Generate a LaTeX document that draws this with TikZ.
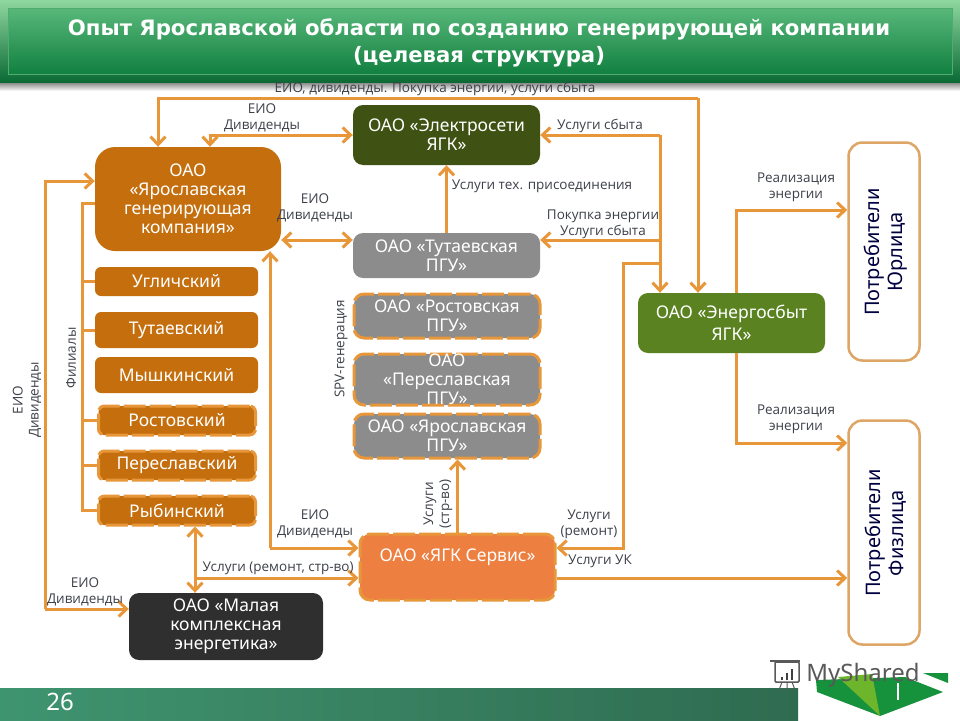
\documentclass[tikz,border=0pt]{standalone}
\usepackage{fontspec}
\setmainfont{Noto Sans}
\newfontfamily\titlefont{DejaVu Sans}
\newfontfamily\labelfont{Open Sans}
\usepackage{xcolor}
\usetikzlibrary{arrows.meta}
\definecolor{linkcol}{HTML}{E8963A}
\definecolor{brownbox}{HTML}{C46E0E}
\definecolor{olivebox}{HTML}{3F5213}
\definecolor{graybox}{HTML}{8C8C8C}
\definecolor{greenbox}{HTML}{5A8220}
\definecolor{servbox}{HTML}{ED8040}
\definecolor{darkbox}{HTML}{2F2F2F}
\definecolor{custline}{HTML}{DDA566}
\definecolor{labelcol}{HTML}{3C4048}
\definecolor{bandtop}{HTML}{8FD8A0}
\definecolor{bandlow}{HTML}{0B6A34}
\definecolor{inntop}{HTML}{58B87A}
\definecolor{innlow}{HTML}{118040}
\definecolor{foota}{HTML}{3F9470}
\definecolor{footb}{HTML}{2F6B50}
\definecolor{logoa}{HTML}{16913C}
\definecolor{logob}{HTML}{6DB52A}
\begin{document}
\begin{tikzpicture}[x=1pt,y=-1pt,
		orgbox/.style={rounded corners=10pt, inner sep=0pt, align=center, text=white, font=\fontsize{17.5}{19}\selectfont},
		dashbox/.style={orgbox, draw=linkcol, line width=3pt, dash pattern=on 22pt off 4pt},
		custbox/.style={draw=custline, line width=2.5pt, fill=white, rounded corners=14pt, inner sep=0pt},
		custtext/.style={rotate=90, align=center, text=black!75!blue, font=\fontsize{20}{23}\selectfont},
		lab/.style={align=center, text=labelcol, inner sep=0pt, font=\labelfont\fontsize{13.5}{16}\selectfont},
		link/.style={draw=linkcol, line width=3pt},
		arr/.style={link, -{Straight Barb[length=8pt,width=15pt]}},
		arrs/.style={link, {Straight Barb[length=8pt,width=15pt]}-{Straight Barb[length=8pt,width=15pt]}}
	]
	\useasboundingbox (0,0) rectangle (960,720);

	% title band and footer
	\shade[top color=black!50, bottom color=white] (0,82) rectangle (960,91);
	\shade[top color=bandtop, bottom color=bandlow] (0,0) rectangle (960,82);
	\shade[top color=inntop, bottom color=innlow, draw=bandtop!50!innlow] (8,8) rectangle (952,74);
	\node[font=\titlefont\bfseries\fontsize{21.2}{27}\selectfont, text=white, align=center, inner sep=0pt] (title) at (479,43)
		{Опыт Ярославской области по созданию генерирующей компании\\(целевая структура)};
	\shade[left color=foota, right color=footb] (0,688) rectangle (798,720);
	\node[font=\fontsize{24}{24}\selectfont, text=white, inner sep=0pt] (pagenum) at (60,702) {26};

	% boxes
	\node[orgbox, fill=brownbox, minimum width=186pt, minimum height=104pt, rounded corners=20pt] (gen) at (188,199)
		{ОАО\\«Ярославская\\генерирующая\\компания»};
	\node[orgbox, fill=olivebox, minimum width=187pt, minimum height=60pt] (seti) at (446.5,135) {ОАО «Электросети\\ЯГК»};
	\node[orgbox, fill=graybox, minimum width=187pt, minimum height=45pt] (tutpgu) at (446.5,255.5) {ОАО «Тутаевская\\ПГУ»};
	\node[dashbox, fill=graybox, minimum width=186pt, minimum height=44pt] (rospgu) at (447,316) {ОАО «Ростовская\\ПГУ»};
	\node[dashbox, fill=graybox, minimum width=186pt, minimum height=51pt] (perpgu) at (447,379.5) {ОАО\\«Переславская\\ПГУ»};
	\node[dashbox, fill=graybox, minimum width=186pt, minimum height=44pt] (yarpgu) at (447,436) {ОАО «Ярославская\\ПГУ»};

	\node[orgbox, fill=brownbox, minimum width=163pt, minimum height=29pt, rounded corners=6pt] (uglich) at (176.5,281.5) {\raisebox{-4pt}{Угличский}};
	\node[orgbox, fill=brownbox, minimum width=163pt, minimum height=36pt, rounded corners=6pt] (tutaev) at (176.5,330) {\raisebox{-2pt}{Тутаевский}};
	\node[orgbox, fill=brownbox, minimum width=163pt, minimum height=36pt, rounded corners=6pt] (myshkin) at (176.5,375) {\raisebox{-1pt}{Мышкинский}};
	\node[dashbox, fill=brownbox, minimum width=157pt, minimum height=29pt, rounded corners=6pt] (rostov) at (177,420.5) {Ростовский};
	\node[dashbox, fill=brownbox, minimum width=157pt, minimum height=29pt, rounded corners=6pt] (pereslav) at (177,465.5) {\raisebox{-1pt}{Переславский}};
	\node[dashbox, fill=brownbox, minimum width=157pt, minimum height=29pt, rounded corners=6pt] (rybinsk) at (177,510.5) {Рыбинский};

	\node[orgbox, fill=darkbox, minimum width=194pt, minimum height=67pt] (malaya) at (226,626.5) {ОАО «Малая\\комплексная\\энергетика»};
	\node[dashbox, fill=servbox, minimum width=195pt, minimum height=66pt] (serv) at (457.5,567) {};
	\node[text=white, inner sep=0pt, font=\fontsize{17.5}{19}\selectfont] (servtext) at (457.5,557) {ОАО «ЯГК Сервис»};
	\node[orgbox, fill=greenbox, minimum width=187pt, minimum height=60pt] (sbyt) at (731.5,323) {ОАО «Энергосбыт\\[3pt]ЯГК»};

	\node[custbox, minimum width=71pt, minimum height=218pt] (yur) at (884,251.5) {};
	\node[custtext] (yurtext) at (886,252) {Потребители\\Юрлица};
	\node[custbox, minimum width=71pt, minimum height=224pt] (fiz) at (884,532.5) {};
	\node[custtext] (fiztext) at (886,533) {Потребители\\Физлица};

	% junctions
	\coordinate (topa) at (158,98);
	\coordinate (topb) at (698,98);
	\coordinate (divr) at (210,135);
	\coordinate (sbyta) at (660,135);
	\coordinate (sbytb) at (660,240);
	\coordinate (remb) at (660,263);
	\coordinate (remc) at (623,263);
	\coordinate (remd) at (623,548);
	\coordinate (lefta) at (45,181);
	\coordinate (leftb) at (45,609);
	\coordinate (fila) at (82,203);
	\coordinate (filb) at (82,510);
	\coordinate (gena) at (270,548);
	\coordinate (rybm) at (195,578);
	\coordinate (reala) at (736,210);
	\coordinate (realb) at (736,443);

	% connectors
	\draw[arr] (topb) -- (topa) -- (topa |- gen.north);
	\draw[arr] (topb) -- (topb |- sbyt.north);
	\draw[arrs] (seti.west |- divr) -- (divr) -- (divr |- gen.north);
	\draw[arr] (sbyta) -- (sbyta -| seti.east);
	\draw[arr] (sbyta) -- (sbyta |- sbyt.north);
	\draw[arr] (sbytb) -- (sbytb -| tutpgu.east);
	\draw[arr] (remb) -- (remc) -- (remd) -- (remd -| serv.east);
	\draw[arrs] (gen.east |- sbytb) -- (tutpgu.west |- sbytb);
	\draw[arr] (tutpgu.north) -- (seti.south);
	\draw[arr] (leftb) -- (lefta) -- (lefta -| gen.west);
	\draw[arr] (leftb) -- (leftb -| malaya.west);
	\draw[link] (fila -| gen.west) -- (fila) -- (filb) -- (filb -| rybinsk.west);
	\draw[link] (fila |- uglich.west) -- (uglich.west);
	\draw[link] (fila |- tutaev.west) -- (tutaev.west);
	\draw[link] (fila |- rostov.west) -- (rostov.west);
	\draw[link] (fila |- pereslav.west) -- (pereslav.west);
	\draw[arr] (gena) -- (gena |- gen.south);
	\draw[arr] (gena) -- (gena -| serv.west);
	\draw[arrs] (rybm |- rybinsk.south) -- (rybm |- malaya.north);
	\draw[arr] (rybm) -- (rybm -| serv.west);
	\draw[arr] (serv.north) -- (serv.north |- yarpgu.south);
	\draw[arr] (rybm -| serv.east) -- (rybm -| fiz.west);
	\draw[arr] (reala |- sbyt.north) -- (reala) -- (reala -| yur.west);
	\draw[arr] (realb |- sbyt.south) -- (realb) -- (realb -| fiz.west);

	% labels
	\node[lab] (toplab) at (435,89) {ЕИО, дивиденды. Покупка энергии, услуги сбыта};
	\node[lab] (divlaba) at (262,118) {ЕИО\\Дивиденды};
	\node[lab] (divlabb) at (315,208) {ЕИО\\Дивиденды};
	\node[lab] (divlabc) at (315,524) {ЕИО\\Дивиденды};
	\node[lab] (divlabd) at (85,592) {ЕИО\\Дивиденды};
	\node[lab, rotate=90] (divlabe) at (27,400) {ЕИО\\Дивиденды};
	\node[lab, rotate=90] (fillab) at (71,358) {Филиалы};
	\node[lab, rotate=90] (spvlab) at (341,349) {SPV-генерация};
	\node[lab] (sbytlab) at (600,126) {Услуги сбыта};
	\node[lab] (teklab) at (542,186) {Услуги тех. присоединения};
	\node[lab] (poklab) at (603,224) {Покупка энергии\\Услуги сбыта};
	\node[lab] (realab) at (796,187) {Реализация\\энергии};
	\node[lab] (realabb) at (796,419) {Реализация\\энергии};
	\node[lab] (remlab) at (278,568) {Услуги (ремонт, стр-во)};
	\node[lab, rotate=90] (strlab) at (438,504) {Услуги\\(стр-во)};
	\node[lab] (remlabb) at (589,524) {Услуги\\(ремонт)};
	\node[lab] (uklab) at (600,561) {Услуги УК};

	% logo
	\fill[logoa] (816,680) -- (817,692) -- (880,716) -- (943,692) -- (905,677) -- cycle;
	\fill[logoa] (923,673) -- (948,673) -- (948,683) -- cycle;
	\fill[logob] (838,677) -- (880,716) -- (872,674) -- cycle;
	\draw[white, line width=2.5pt] (898,683) -- (898,700);
	\draw[black!65, line width=1.5pt, fill=white, rounded corners=1pt] (775,662) rectangle (799,682);
	\draw[black!65, line width=1.5pt] (770,661) -- (800,661);
	\draw[black!75, line width=2.5pt] (782,680) -- (782,677) (787,680) -- (787,673) (792,680) -- (792,669);
	\draw[black!65, line width=1pt] (782,682) -- (779,690) (787,682) -- (787,690) (792,682) -- (795,690);
	\node[font=\fontsize{24}{24}\selectfont, text=black!65, inner sep=0pt] (logotext) at (863,675) {MyShared};
\end{tikzpicture}
\end{document}
